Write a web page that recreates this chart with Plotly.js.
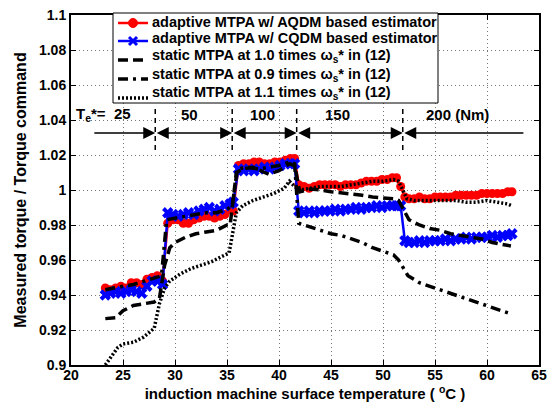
<!DOCTYPE html>
<html>
<head>
<meta charset="utf-8">
<script src="https://cdn.plot.ly/plotly-3.0.1.min.js"></script>
<style>html,body{margin:0;padding:0;background:#fff;}#chart{width:548px;height:407px;}</style>
</head>
<body>
<div id="chart"></div>
<script>
// ---- data ----
const tempAQDM = [23.3,23.8,24.3,24.8,25.3,25.8,26.3,26.8,27.3,27.8,28.3,28.8,29.3,29.8,30.3,30.8,31.3,31.8,32.3,32.8,33.3,33.8,34.3,34.8,35.3,35.6,36.1,36.6,37.1,37.6,38.1,38.6,39.1,39.6,40.1,40.6,41.1,41.5,41.9,42.4,42.9,43.4,43.9,44.4,44.9,45.4,45.9,46.4,46.9,47.4,47.9,48.4,48.9,49.4,49.9,50.4,50.9,51.3,51.7,52.1,52.5,53.0,53.5,54.0,54.5,55.0,55.5,56.0,56.5,57.0,57.5,58.0,58.5,59.0,59.5,60.0,60.5,61.0,61.5,62.0,62.4];
const ratioAQDM = [0.944,0.943,0.944,0.945,0.944,0.947,0.947,0.946,0.949,0.950,0.951,0.948,0.981,0.983,0.983,0.981,0.981,0.983,0.984,0.985,0.985,0.984,0.985,0.986,0.989,0.988,1.014,1.015,1.015,1.016,1.016,1.015,1.015,1.016,1.016,1.017,1.018,1.018,1.003,1.002,1.001,1.002,1.003,1.003,1.003,1.003,1.002,1.003,1.003,1.003,1.004,1.005,1.005,1.005,1.006,1.006,1.007,1.007,1.002,0.996,0.995,0.995,0.996,0.995,0.995,0.996,0.996,0.996,0.996,0.997,0.997,0.997,0.997,0.997,0.998,0.998,0.998,0.998,0.998,0.999,0.999];

const tempCQDM = [23.3,23.8,24.3,24.8,25.3,25.8,26.3,26.8,27.3,27.8,28.3,28.8,29.3,29.8,30.3,30.8,31.3,31.8,32.3,32.8,33.3,33.8,34.3,34.8,35.3,35.6,36.1,36.6,37.1,37.6,38.1,38.6,39.1,39.6,40.1,40.6,41.1,41.5,41.9,42.4,42.9,43.4,43.9,44.4,44.9,45.4,45.9,46.4,46.9,47.4,47.9,48.4,48.9,49.4,49.9,50.4,50.9,51.3,51.7,52.1,52.5,53.0,53.5,54.0,54.5,55.0,55.5,56.0,56.5,57.0,57.5,58.0,58.5,59.0,59.5,60.0,60.5,61.0,61.5,62.0,62.4];
const ratioCQDM = [0.940,0.941,0.942,0.941,0.942,0.943,0.942,0.941,0.945,0.948,0.948,0.946,0.987,0.986,0.985,0.986,0.987,0.986,0.988,0.989,0.990,0.988,0.989,0.991,0.992,0.993,1.012,1.011,1.012,1.011,1.012,1.013,1.012,1.013,1.014,1.015,1.015,1.015,0.988,0.987,0.988,0.987,0.988,0.988,0.988,0.989,0.988,0.989,0.989,0.990,0.989,0.990,0.990,0.991,0.990,0.991,0.991,0.991,0.991,0.971,0.970,0.970,0.971,0.970,0.971,0.971,0.971,0.972,0.971,0.972,0.972,0.973,0.972,0.973,0.973,0.973,0.974,0.973,0.974,0.974,0.975];

const tempStatic10 = [23.3,24.3,25.0,26.0,27.0,28.0,28.5,29.0,29.5,30.0,31.0,32.0,33.0,34.0,35.0,35.3,35.9,36.5,37.5,38.5,39.0,40.0,41.0,41.5,42.0,43.0,44.0,45.0,46.0,47.0,48.0,49.0,50.0,51.0,51.5,52.5,53.5,54.5,55.5,56.5,57.5,58.5,59.5,60.5,61.5,62.3];
const ratioStatic10 = [0.9265,0.927,0.931,0.934,0.935,0.936,0.938,0.957,0.967,0.970,0.973,0.975,0.976,0.977,0.980,0.980,1.010,1.012,1.013,1.010,1.009,1.011,1.015,1.014,0.999,1.0005,1.000,0.999,0.9985,0.998,0.997,0.996,0.9955,0.995,0.994,0.983,0.980,0.978,0.977,0.975,0.974,0.973,0.972,0.970,0.969,0.968];

const tempStatic09 = [23.3,24.0,25.0,26.0,27.0,28.0,28.7,29.2,30.0,31.0,32.0,33.0,34.0,35.0,35.5,36.0,37.0,38.0,39.0,40.0,41.0,41.5,41.9,43.0,44.0,45.0,46.0,47.0,48.0,49.0,50.0,51.0,51.5,52.4,53.5,54.5,55.5,56.5,57.5,58.5,59.5,60.5,61.5,62.4];
const ratioStatic09 = [0.943,0.944,0.945,0.946,0.948,0.950,0.951,0.983,0.984,0.985,0.986,0.987,0.987,0.989,0.991,1.012,1.013,1.012,1.013,1.014,1.016,1.015,0.981,0.979,0.977,0.975,0.974,0.972,0.970,0.967,0.965,0.963,0.960,0.951,0.947,0.945,0.943,0.941,0.939,0.937,0.935,0.933,0.931,0.929];

const tempStatic11 = [23.3,24.0,24.5,25.0,26.0,27.0,28.0,28.5,29.0,29.5,30.5,31.5,32.5,33.5,34.5,35.2,35.9,36.5,37.5,38.5,39.5,40.5,41.0,41.5,42.0,43.0,44.0,45.0,46.0,47.0,48.0,49.0,50.0,51.0,51.5,52.3,53.0,54.0,55.0,56.0,57.0,58.0,59.0,60.0,61.0,62.0,62.4];
const ratioStatic11 = [0.900,0.906,0.910,0.912,0.913,0.916,0.921,0.935,0.944,0.948,0.952,0.955,0.957,0.959,0.962,0.964,0.987,0.991,0.994,0.996,0.998,1.001,1.005,1.002,1.000,1.001,1.002,1.002,1.002,1.003,1.004,1.005,1.005,1.006,1.005,0.995,0.994,0.994,0.994,0.994,0.994,0.993,0.993,0.994,0.993,0.992,0.991];

const seriesNames = [
  'adaptive MTPA w/ AQDM based estimator',
  'adaptive MTPA w/ CQDM based estimator',
  'static MTPA at 1.0 times ω<sub>s</sub>* in (12)',
  'static MTPA at 0.9 times ω<sub>s</sub>* in (12)',
  'static MTPA at 1.1 times ω<sub>s</sub>* in (12)'
];

// torque command segments
const torqueLabels = ['T<sub>e</sub>*=  25','50','100','150','200 (Nm)'];
const torqueLabelTemps = [20.3,31.4,38.4,45.6,57.2];
const segmentEdges = [22.1,28.1,35.5,41.7,51.9,63.5];

const xTickVals = [20,25,30,35,40,45,50,55,60,65];
const xTickText = ['20','25','30','35','40','45','50','55','60','65'];
const yTickVals = [0.9,0.92,0.94,0.96,0.98,1.0,1.02,1.04,1.06,1.08,1.1];
const yTickText = ['0.9','0.92','0.94','0.96','0.98','1','1.02','1.04','1.06','1.08','1.1'];

// ---- styles ----
const FONT = 'Liberation Sans, Arial, Helvetica, sans-serif';
const styles = [
  {mode: 'lines+markers', line: {color: '#ff0000', width: 2.5}, marker: {symbol: 'circle', size: 9, color: '#ff0000'}},
  {mode: 'lines+markers', line: {color: '#0000ff', width: 2.5}, marker: {symbol: 'x', size: 10, color: '#0000ff'}},
  {mode: 'lines', line: {color: '#000', width: 3.5, dash: '10px,5px'}},
  {mode: 'lines', line: {color: '#000', width: 3.5, dash: '10px,5px,3px,5px'}},
  {mode: 'lines', line: {color: '#000', width: 3.5, dash: '2px,2px'}}
];
const xs = [tempAQDM, tempCQDM, tempStatic10, tempStatic09, tempStatic11];
const ys = [ratioAQDM, ratioCQDM, ratioStatic10, ratioStatic09, ratioStatic11];
const traces = xs.map((x, i) => Object.assign({x: x, y: ys[i], name: seriesNames[i], showlegend: false}, styles[i]));

// ---- plot-area geometry (px) to place the legend box in paper units ----
const PL = 71, PR = 539, PT = 15, PB = 365;
const px = v => (v - PL) / (PR - PL);
const py = v => (PB - v) / (PB - PT);

const annotations = [];
const shapes = [];

// torque command annotation
const yText = 1.043, yArrow = 1.0326;
torqueLabels.forEach((t, i) => {
  annotations.push({x: torqueLabelTemps[i], y: yText, xref: 'x', yref: 'y', text: t, showarrow: false,
    xanchor: i === 0 ? 'left' : 'center', yanchor: 'middle',
    font: {family: FONT, size: 15, color: '#000', weight: 'bold'}});
});
for (let i = 0; i < segmentEdges.length - 1; i++) {
  const first = i === 0, last = i === segmentEdges.length - 2;
  annotations.push({x: segmentEdges[i + 1], y: yArrow, ax: segmentEdges[i], ay: yArrow,
    xref: 'x', yref: 'y', axref: 'x', ayref: 'y', text: '', showarrow: true,
    arrowside: first ? 'end' : (last ? 'start' : 'end+start'),
    arrowhead: 2, arrowsize: 1.6, startarrowhead: 2, startarrowsize: 1.6,
    arrowwidth: 1.5, arrowcolor: '#000', standoff: 0, startstandoff: 0});
}
for (let i = 1; i < segmentEdges.length - 1; i++) {
  shapes.push({type: 'line', xref: 'x', yref: 'y', x0: segmentEdges[i], x1: segmentEdges[i],
    y0: 1.0229, y1: 1.0486, line: {color: '#000', width: 1.5, dash: '5px,4px'}});
}

// legend box (MATLAB style)
shapes.push({type: 'rect', xref: 'paper', yref: 'paper', x0: px(113), x1: px(438), y0: py(103), y1: py(13),
  fillcolor: '#fff', line: {color: '#000', width: 1}});
const sampleY = [23, 41, 60, 79, 98];
const textY = [22, 38, 56.5, 74.5, 92.5];
sampleY.forEach((sy, i) => {
  shapes.push({type: 'line', xref: 'paper', yref: 'paper', x0: px(118), x1: px(148), y0: py(sy), y1: py(sy),
    line: {color: styles[i].line.color, width: styles[i].line.width, dash: styles[i].line.dash || 'solid'}});
  annotations.push({xref: 'paper', yref: 'paper', x: px(151), y: py(textY[i]), text: seriesNames[i],
    showarrow: false, xanchor: 'left', yanchor: 'middle', borderpad: 0,
    font: {family: FONT, size: 14.5, color: '#000', weight: 'bold'}});
});
// legend marker samples
shapes.push({type: 'circle', xref: 'paper', yref: 'paper', x0: px(128.5), x1: px(137.5), y0: py(27.5), y1: py(18.5),
  fillcolor: '#ff0000', line: {color: '#ff0000', width: 1}});
shapes.push({type: 'line', xref: 'paper', yref: 'paper', x0: px(129), x1: px(137), y0: py(37), y1: py(45),
  line: {color: '#0000ff', width: 3}});
shapes.push({type: 'line', xref: 'paper', yref: 'paper', x0: px(129), x1: px(137), y0: py(45), y1: py(37),
  line: {color: '#0000ff', width: 3}});

const axisCommon = {
  showline: true, linecolor: '#000', linewidth: 2, mirror: 'ticks',
  ticks: 'inside', ticklen: 5, tickwidth: 1, tickcolor: '#000',
  showgrid: true, gridcolor: '#777', gridwidth: 1, griddash: '1px,3px',
  zeroline: false, tickfont: {family: FONT, size: 14, color: '#000', weight: 'bold'}
};

const layout = {
  width: 548, height: 407,
  margin: {l: PL, r: 548 - PR, t: PT, b: 407 - PB},
  paper_bgcolor: '#fff', plot_bgcolor: '#fff',
  font: {family: FONT, color: '#000', weight: 'bold'},
  showlegend: false,
  xaxis: Object.assign({}, axisCommon, {range: [20, 65], tickvals: xTickVals, ticktext: xTickText,
    ticklabelstandoff: -4,
    title: {text: 'induction machine surface temperature ( <sup>o</sup>C )', standoff: 4,
      font: {family: FONT, size: 15, color: '#000', weight: 'bold'}}}),
  yaxis: Object.assign({}, axisCommon, {range: [0.9, 1.1], tickvals: yTickVals, ticktext: yTickText,
    ticklabelstandoff: 0,
    title: {text: 'Measured torque / Torque command', standoff: 8,
      font: {family: FONT, size: 16, color: '#000', weight: 'bold'}}}),
  annotations: annotations,
  shapes: shapes
};

Plotly.newPlot('chart', traces, layout, {displayModeBar: false, staticPlot: true});
</script>
</body>
</html>
